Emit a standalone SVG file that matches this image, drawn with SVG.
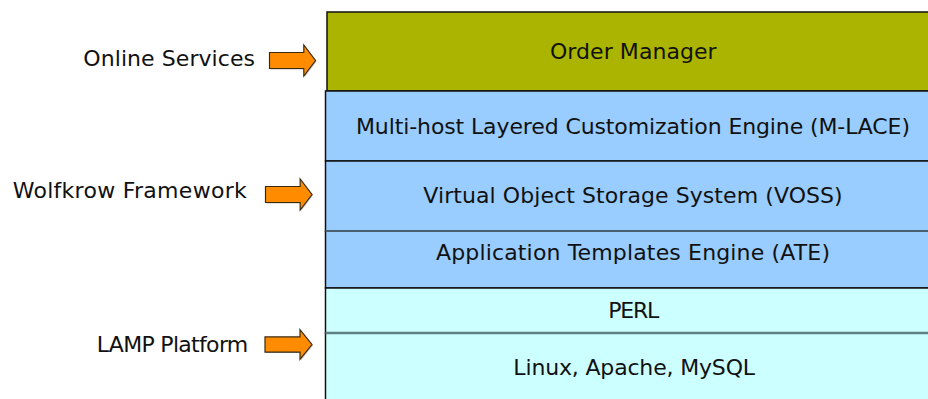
<svg xmlns="http://www.w3.org/2000/svg" width="928" height="399" viewBox="0 0 928 399">
<defs>
<style>
text{font-family:"DejaVu Sans","Liberation Sans",sans-serif;font-size:22px;fill:#111}
.c{text-anchor:middle}
.arrow{fill:#ff8c00;stroke:#3a2a10;stroke-width:1.2;stroke-linejoin:miter}
.shadow{fill:#9a9a9a;opacity:0.6}
.box{stroke:#111;stroke-width:1.5}
.olive{fill:#abb400}
.blue{fill:#99ccff}
.cyan{fill:#ccffff}
</style>
<polygon id="arr" points="0,-8 35,-8 35,-15.5 47,0 35,15.5 35,8 0,8"/>
</defs>
<rect width="928" height="399" fill="#fff"/>

<g id="order-manager">
<rect class="box olive" x="327" y="12" width="620" height="79"/>
<text class="c" x="633.3" y="59.3" textLength="166.7">Order Manager</text>
</g>
<g id="m-lace">
<rect class="box blue" x="325.5" y="91" width="620" height="70"/>
<text class="c" x="633" y="134.3" textLength="554">Multi-host Layered Customization Engine (M-LACE)</text>
</g>
<g id="voss">
<rect class="box blue" x="325.5" y="161" width="620" height="70"/>
<text class="c" x="633" y="203.3" textLength="419.4">Virtual Object Storage System (VOSS)</text>
</g>
<g id="ate">
<rect class="box blue" x="325.5" y="231" width="620" height="57"/>
<line x1="325.5" y1="231" x2="928" y2="231" stroke="#4a5f70" stroke-width="2"/>
<text class="c" x="633" y="260" textLength="394">Application Templates Engine (ATE)</text>
</g>
<g id="perl">
<rect class="box cyan" x="325.5" y="288" width="620" height="45"/>
<text class="c" x="633.8" y="317.7" textLength="51">PERL</text>
</g>
<g id="lamp-base">
<rect class="box cyan" x="325.5" y="333" width="620" height="80"/>
<line x1="325.5" y1="333" x2="928" y2="333" stroke="#5f8080" stroke-width="2.5"/>
<text class="c" x="634.2" y="375" textLength="241.7">Linux, Apache, MySQL</text>
</g>

<g id="label-online">
<text x="83.3" y="65.7" textLength="171.7">Online Services</text>
</g>
<g id="label-wolfkrow">
<text x="12.7" y="198.3" textLength="234">Wolfkrow Framework</text>
</g>
<g id="label-lamp">
<text x="96.7" y="352.3" textLength="151.6">LAMP Platform</text>
</g>

<g id="connectors">
<use href="#arr" class="shadow" transform="translate(270.5,61.5) scale(0.98,1)"/>
<use href="#arr" class="arrow" transform="translate(269.5,60.5) scale(0.98,1)"/>
<use href="#arr" class="shadow" transform="translate(266.5,195.5) scale(0.99,1)"/>
<use href="#arr" class="arrow" transform="translate(265.5,194.5) scale(0.99,1)"/>
<use href="#arr" class="shadow" transform="translate(266,345.5) scale(1,0.95)"/>
<use href="#arr" class="arrow" transform="translate(265,344.5) scale(1,0.95)"/>
</g>
</svg>
